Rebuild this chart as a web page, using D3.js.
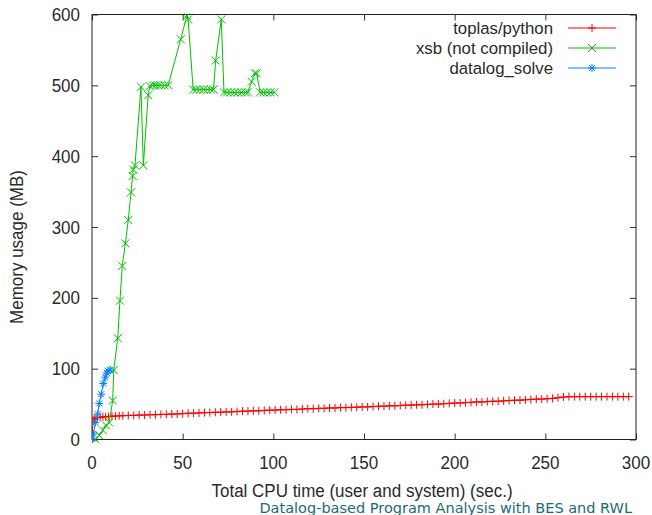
<!DOCTYPE html>
<html>
<head>
<meta charset="utf-8" />
<title>Memory usage vs CPU time</title>
<script type="text/javascript" src="https://d3js.org/d3.v7.min.js"></script>
<style type="text/css">
    body { margin: 0; background: #fff; }
    text { font-family: "Liberation Sans", Arial, sans-serif; fill: #2a2a2a; }
    .footer { font-family: "DejaVu Sans", sans-serif; fill: #1b6d6d; }
</style>
</head>
<body>
<svg width="652" height="515"></svg>
<script>
    // toplas/python : time (sec), memory (MB)
    var redTime = [0, 0.6, 1.5, 3, 4.5, 6, 7.5, 9, 11, 13, 15, 17, 20, 23, 26, 29, 32, 35, 38, 41, 44, 47,
        50, 53, 56, 59, 62, 65, 68, 71, 74, 77, 80, 83, 86, 89, 92, 95, 98, 101, 104, 107, 110, 113, 116, 119,
        122, 125, 128, 131, 134, 137, 140, 143, 146, 149, 152, 155, 158, 161, 164, 167, 170, 173, 176, 179,
        182, 185, 188, 191, 194, 197, 200, 203, 206, 209, 212, 215, 218, 221, 224, 227, 230, 233, 236, 239,
        242, 245, 248, 251, 254, 257, 260, 263, 266, 269, 272, 275, 278, 281, 284, 287, 290, 293, 296];
    var redMem = [0, 28, 30, 31, 31.5, 32, 32, 32.5, 33, 33, 33.5, 33.5, 34, 34, 34.5, 34.5, 35, 35, 35.5, 35.5, 36, 36,
        36.5, 37, 37, 37.5, 38, 38, 38.5, 38.5, 39, 39, 39.5, 40, 40, 40.5, 40.5, 41, 41.5, 41.5, 42, 42, 42.5, 42.5, 43, 43.5,
        43.5, 44, 44, 44.5, 44.5, 45, 45, 45.5, 45.5, 46, 46, 46.5, 47, 47, 47.5, 47.5, 48, 48.5, 48.5, 49,
        49, 49.5, 50, 50, 50.5, 51, 51.5, 51.5, 52, 52.5, 53, 53, 53.5, 54, 54, 54.5, 55, 55.5, 55.5, 56,
        56.5, 57, 57, 57.5, 58, 59, 60, 60.5, 60.5, 60.5, 60.5, 60.5, 60.5, 60.5, 60.5, 60.5, 60.5, 60.5, 60.5];

    // xsb (not compiled)
    var greenTime = [2, 4, 6, 7.7, 9.5, 11.4, 12, 14.2, 15.4, 16.7, 18.4, 20, 21.5, 22.4, 22.8, 23.7, 27, 28.3, 31,
        31.8, 33.5, 35, 36.5, 38, 40, 42, 48.9, 52.3, 53, 55.8, 57.5, 59.5, 61.5, 63.5, 65.5, 67, 68.2, 71.3,
        72.8, 74.5, 76.5, 78.5, 80.5, 82.5, 84.5, 86, 88, 89.8, 90.8, 92.7, 94.5, 96.5, 98.5, 100.5];
    var greenMem = [0, 6, 13, 20, 24, 55, 98, 143, 196, 245, 277, 310, 349, 372, 381, 387, 498, 387, 486,
        499, 500, 500, 500, 500, 500, 500, 565, 598, 593, 494, 494, 494, 494, 494, 494, 494, 535, 593,
        490, 490, 490, 490, 490, 490, 490, 490, 505, 517, 517, 490, 490, 490, 490, 490];

    // datalog_solve
    var blueTime = [0, 0.8, 1.8, 3.1, 4, 5.1, 6.2, 7.3, 8.2, 8.8, 9.9];
    var blueMem = [1, 8, 24, 36, 51, 64, 79, 88, 94, 97, 98];

    var xTicks = [0, 50, 100, 150, 200, 250, 300];
    var yTicks = [0, 100, 200, 300, 400, 500, 600];

    var series = [
        { name: "toplas/python", color: "#ff0000", marker: "plus", t: redTime, m: redMem },
        { name: "xsb (not compiled)", color: "#00c000", marker: "cross", t: greenTime, m: greenMem },
        { name: "datalog_solve", color: "#0080ff", marker: "star", t: blueTime, m: blueMem }
    ];

    var markers = {
        plus: "M-4,0H4M0,-4V4",
        cross: "M-4,-4L4,4M4,-4L-4,4",
        star: "M-4,0H4M0,-4V4M-3,-3L3,3M3,-3L-3,3"
    };

    // plot box (pixels)
    var pLeft = 92, pRight = 636, pTop = 14.5, pBottom = 439.5;
    var stretch = 1.12; // the text in the picture is a bit taller than wide

    var svg = d3.select("svg");

    var x = d3.scaleLinear().domain([0, 300]).range([pLeft, pRight]);
    var y = d3.scaleLinear().domain([0, 600]).range([pBottom, pTop]);

    function label(g, px, py, str, size, anchor, rot, sy) {
        return g.append("text")
            .attr("transform", "translate(" + px + "," + py + ")" + (rot ? " rotate(" + rot + ")" : "") + " scale(1," + (sy || stretch) + ")")
            .attr("text-anchor", anchor)
            .attr("font-size", size + "px")
            .text(str);
    }

    // inward ticks on all four sides, gnuplot style
    svg.append("g")
        .attr("transform", "translate(0," + pBottom + ")")
        .call(d3.axisBottom(x).tickValues(xTicks).tickSize(-6).tickFormat(""))
        .call(g => g.select(".domain").remove());
    svg.append("g")
        .attr("transform", "translate(0," + pTop + ")")
        .call(d3.axisTop(x).tickValues(xTicks).tickSize(-6).tickFormat(""))
        .call(g => g.select(".domain").remove());
    svg.append("g")
        .attr("transform", "translate(" + pLeft + ",0)")
        .call(d3.axisLeft(y).tickValues(yTicks).tickSize(-6).tickFormat(""))
        .call(g => g.select(".domain").remove());
    svg.append("g")
        .attr("transform", "translate(" + pRight + ",0)")
        .call(d3.axisRight(y).tickValues(yTicks).tickSize(-6).tickFormat(""))
        .call(g => g.select(".domain").remove());
    svg.selectAll(".tick line").attr("stroke", "#333");

    // tick labels
    var tl = svg.append("g");
    xTicks.forEach(t => label(tl, x(t), 469, t, 17, "middle"));
    yTicks.forEach(t => label(tl, 80, y(t) + 6.5, t, 17, "end"));

    // border
    svg.append("rect")
        .attr("x", pLeft).attr("y", pTop)
        .attr("width", pRight - pLeft).attr("height", pBottom - pTop)
        .attr("fill", "none").attr("stroke", "#222").attr("stroke-width", 1);

    svg.append("clipPath").attr("id", "plotclip")
        .append("rect").attr("x", pLeft).attr("y", pTop - 1)
        .attr("width", pRight - pLeft).attr("height", pBottom - pTop + 5);

    var line = d3.line().x(d => x(d[0])).y(d => y(d[1]));

    var plot = svg.append("g").attr("clip-path", "url(#plotclip)");

    series.forEach(function(s) {
        var pts = s.t.map((t, i) => [t, s.m[i]]);
        var g = plot.append("g");
        g.append("path")
            .attr("d", line(pts))
            .attr("fill", "none")
            .attr("stroke", s.color)
            .attr("stroke-width", 1);
        g.selectAll("path.mk")
            .data(pts)
            .enter()
            .append("path")
            .attr("class", "mk")
            .attr("transform", d => "translate(" + x(d[0]) + "," + y(d[1]) + ")")
            .attr("d", markers[s.marker])
            .attr("fill", "none")
            .attr("stroke", s.color)
            .attr("stroke-width", 1);
    });

    // legend
    var legend = svg.append("g");
    series.forEach(function(s, i) {
        var ly = 28 + i * 20;
        label(legend, 553, ly + 6, s.name, 16.8, "end", 0, 1.0);
        legend.append("line")
            .attr("x1", 568).attr("x2", 616)
            .attr("y1", ly).attr("y2", ly)
            .attr("stroke", s.color);
        legend.append("path")
            .attr("transform", "translate(592," + ly + ")")
            .attr("d", markers[s.marker])
            .attr("fill", "none")
            .attr("stroke", s.color);
    });

    // axis titles
    label(svg, 362, 497, "Total CPU time (user and system) (sec.)", 17, "middle");
    label(svg, 23, 247, "Memory usage (MB)", 17, "middle", -90);

    svg.append("text")
        .attr("class", "footer")
        .attr("x", 632).attr("y", 513)
        .attr("text-anchor", "end")
        .attr("font-size", "14.5px")
        .text("Datalog-based Program Analysis with BES and RWL");
</script>
</body>
</html>
